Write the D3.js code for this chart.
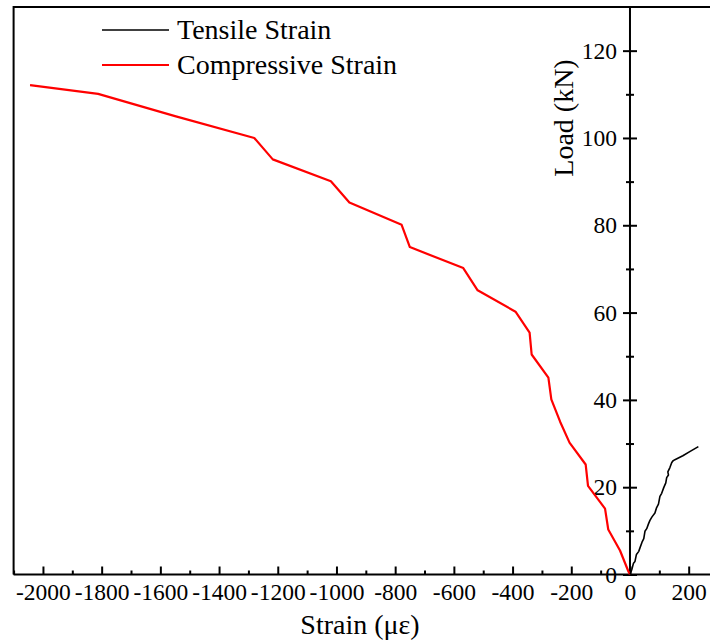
<!DOCTYPE html>
<html>
<head>
<meta charset="utf-8">
<script src="https://cdn.jsdelivr.net/npm/d3@7"></script>
<style>
    body { margin: 0; background: #fff; }
    svg { display: block; font-family: "Liberation Serif", "Times New Roman", serif; }
    .axis path, .axis line { stroke: #000; stroke-width: 2; }
    .axis text { fill: #000; font-size: 23.5px; font-family: "Liberation Serif", "Times New Roman", serif; }
</style>
</head>
<body>
<div id="chart"></div>
<script>
// compressive strain gauge (red)
var compStrain = [0, -6, -34, -74, -85, -143, -151, -206, -238, -268, -278, -335, -342, -390, -519, -568, -750, -778, -956, -1019, -1217, -1280, -1550, -1812, -2044];
var compLoad   = [0, 0.8, 5.5, 10.3, 15.1, 20.3, 25.2, 30.2, 35, 40.1, 45.1, 50.4, 55.4, 60.2, 65.1, 70.2, 75.0, 80.1, 85.2, 90.1, 95.1, 100.0, 105, 110.1, 112.1];

// tensile strain gauge (black)
var tensStrain = [0, 6, 12, 17, 22, 30, 34, 41, 47, 51, 57, 63, 68, 75, 85, 90, 97, 102, 108, 115, 122, 125, 131, 129, 136, 142, 146, 153, 180, 205, 233];
var tensLoad   = [0, 1.1, 2.6, 3.0, 4.6, 5.3, 6.1, 7.4, 8.2, 9.9, 10.5, 11.6, 12.4, 13.2, 14.1, 15.2, 16.1, 17.9, 18.6, 19.9, 21.0, 22.2, 22.8, 23.5, 24.5, 25.6, 26.0, 26.3, 27.2, 28.2, 29.3];

var xMajor = [-2000, -1800, -1600, -1400, -1200, -1000, -800, -600, -400, -200, 0, 200];
var xMinor = [-2100, -1900, -1700, -1500, -1300, -1100, -900, -700, -500, -300, -100, 100];
var yMajor = [0, 20, 40, 60, 80, 100, 120];
var yMinor = [10, 30, 50, 70, 90, 110];

var seriesNames = ["Tensile Strain", "Compressive Strain"];
var seriesColors = ["#000000", "#ff0000"];

var width = 710, height = 643;

var x = d3.scaleLinear().domain([-2100, 275]).range([13.6, 710.7]);
var y = d3.scaleLinear().domain([0, 130]).range([574.5, 7]);

// plain hyphen, no thousands separator
var plainFormat = function (d) { return String(d); };

var svg = d3.select("#chart")
    .append("svg")
    .attr("width", width)
    .attr("height", height);

// frame (left + top)
svg.append("path")
    .attr("d", "M" + x(-2100) + "," + y(0) + "V" + y(130) + "H" + (width + 5))
    .style("fill", "none")
    .style("stroke", "#000")
    .style("stroke-width", 2);

//X axis
var xAxisG = svg.append("g")
    .attr("class", "axis")
    .attr("transform", "translate(0," + y(0) + ")")
    .call(d3.axisBottom(x).tickValues(xMajor).tickSizeInner(-8).tickSizeOuter(0).tickPadding(9).tickFormat(plainFormat));
xAxisG.select(".domain").attr("d", "M" + x(-2100) + ",0H" + (width + 5));

svg.append("g")
    .attr("class", "axis")
    .attr("transform", "translate(0," + y(0) + ")")
    .call(d3.axisBottom(x).tickValues(xMinor).tickSizeInner(-4).tickSizeOuter(0).tickFormat(""))
    .select(".domain").remove();

//Y axis at strain = 0, ticks cross the line
var yAxisG = svg.append("g")
    .attr("class", "axis")
    .attr("transform", "translate(" + x(0) + ",0)")
    .call(d3.axisLeft(y).tickValues(yMajor).tickSizeInner(7).tickSizeOuter(0).tickPadding(6).tickFormat(plainFormat));
yAxisG.select(".domain").attr("d", "M0," + y(0) + "V" + y(130));
yAxisG.selectAll(".tick line").attr("x1", 7);

svg.append("g")
    .attr("class", "axis")
    .attr("transform", "translate(" + x(0) + ",0)")
    .call(d3.axisLeft(y).tickValues(yMinor).tickSizeInner(4).tickSizeOuter(0).tickFormat(""))
    .call(function (g) {
        g.select(".domain").remove();
        g.selectAll(".tick line").attr("x1", 4);
    });

// curves
var line = d3.line()
    .x(function (d) { return x(d[0]); })
    .y(function (d) { return y(d[1]); });

var compData = compStrain.map(function (s, i) { return [s, compLoad[i]]; });
var tensData = tensStrain.map(function (s, i) { return [s, tensLoad[i]]; });

svg.append("path")
    .datum(compData)
    .attr("d", line)
    .style("fill", "none")
    .style("stroke", seriesColors[1])
    .style("stroke-width", 2.2)
    .style("stroke-linejoin", "round");

svg.append("path")
    .datum(tensData)
    .attr("d", line)
    .style("fill", "none")
    .style("stroke", seriesColors[0])
    .style("stroke-width", 1.6)
    .style("stroke-linejoin", "round");

// axis titles
svg.append("text")
    .attr("x", 360)
    .attr("y", 634)
    .attr("text-anchor", "middle")
    .style("font-size", "28px")
    .text("Strain (με)");

svg.append("text")
    .attr("transform", "translate(573,118) rotate(-90)")
    .attr("text-anchor", "middle")
    .style("font-size", "28px")
    .text("Load (kN)");

// legend
var legend = svg.selectAll(".legend")
    .data(seriesNames)
    .enter()
    .append("g")
    .attr("class", "legend")
    .attr("transform", function (d, i) { return "translate(0," + (30 + i * 35) + ")"; });

legend.append("line")
    .attr("x1", 102)
    .attr("x2", 169)
    .style("stroke", function (d, i) { return seriesColors[i]; })
    .style("stroke-width", function (d, i) { return i == 1 ? 2.2 : 1.6; });

legend.append("text")
    .attr("x", 177)
    .attr("y", 9)
    .style("font-size", "28px")
    .text(function (d) { return d; });
</script>
</body>
</html>
